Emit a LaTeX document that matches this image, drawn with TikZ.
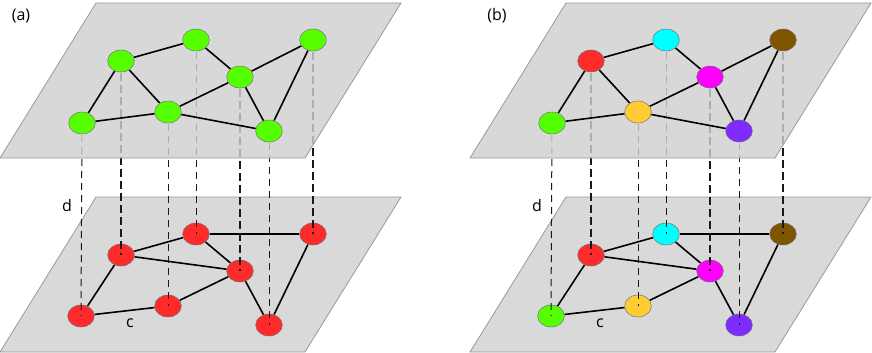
\documentclass[tikz,border=0pt]{standalone}
\usepackage{fontspec}
\setmainfont{Open Sans}
\usetikzlibrary{shapes.geometric}
\pgfdeclarelayer{planeB}
\pgfdeclarelayer{edgesB}
\pgfdeclarelayer{nodesB}
\pgfdeclarelayer{dashl}
\pgfdeclarelayer{planeT}
\pgfdeclarelayer{edgesT}
\pgfsetlayers{planeB,edgesB,nodesB,dashl,planeT,edgesT,main}
\definecolor{cgreen}{HTML}{55FF00}
\definecolor{cred}{HTML}{FF2A2A}
\definecolor{ccyan}{HTML}{00FFFF}
\definecolor{cmag}{HTML}{FF00FF}
\definecolor{cbrown}{HTML}{805500}
\definecolor{cpurple}{HTML}{7F2AFF}
\definecolor{corange}{HTML}{FFCC33}
\definecolor{planefill}{HTML}{D9D9D9}
\definecolor{planetop}{HTML}{D0D0D0}
\definecolor{planeline}{HTML}{999999}
% panel (a): upper all green, lower all red
\colorlet{at1}{cgreen}\colorlet{at2}{cgreen}\colorlet{at3}{cgreen}\colorlet{at4}{cgreen}
\colorlet{at5}{cgreen}\colorlet{at6}{cgreen}\colorlet{at7}{cgreen}
\colorlet{ab1}{cred}\colorlet{ab2}{cred}\colorlet{ab3}{cred}\colorlet{ab4}{cred}
\colorlet{ab5}{cred}\colorlet{ab6}{cred}\colorlet{ab7}{cred}
% panel (b): same colouring in both layers
\colorlet{bt1}{cgreen}\colorlet{bt2}{cred}\colorlet{bt3}{ccyan}\colorlet{bt4}{cbrown}
\colorlet{bt5}{cmag}\colorlet{bt6}{corange}\colorlet{bt7}{cpurple}
\colorlet{bb1}{cgreen}\colorlet{bb2}{cred}\colorlet{bb3}{ccyan}\colorlet{bb4}{cbrown}
\colorlet{bb5}{cmag}\colorlet{bb6}{corange}\colorlet{bb7}{cpurple}
\tikzset{
  vert/.style={ellipse, draw=black!55, line width=0.5pt, minimum width=26.7pt, minimum height=22pt, inner sep=0pt, fill=#1},
  gedge/.style={line width=1.6pt, black},
  proj/.style={line width=1pt, black!90, dash pattern=on 7pt off 5pt},
  projthick/.style={line width=1.6pt, black!90, dash pattern=on 8pt off 4pt},
  plane/.style={fill=planefill, draw=planeline, line width=0.8pt},
  planeupper/.style={fill=planetop, fill opacity=0.82, draw=planeline, line width=0.8pt},
  lbl/.style={font=\fontsize{16pt}{18pt}\selectfont, inner sep=0pt}
}
% #1 prefix (colours #1t1..#1t7, #1b1..#1b7)
\newcommand\drawpanel[1]{%
  \begin{pgfonlayer}{planeB}
    \path[plane] (96,197) -- (401,197) -- (305,352) -- (0,352) -- cycle;
  \end{pgfonlayer}
  \begin{pgfonlayer}{nodesB}
    \node[vert=#1b1] (#1B1) at (81,316) {};
    \node[vert=#1b2] (#1B2) at (121,255) {};
    \node[vert=#1b3] (#1B3) at (196,234) {};
    \node[vert=#1b4] (#1B4) at (313,234) {};
    \node[vert=#1b5] (#1B5) at (240,271) {};
    \node[vert=#1b6] (#1B6) at (168,306) {};
    \node[vert=#1b7] (#1B7) at (269,325) {};
  \end{pgfonlayer}
  \begin{pgfonlayer}{edgesB}
    \draw[gedge] (#1B1) -- (#1B2);
    \draw[gedge] (#1B1) -- (#1B6);
    \draw[gedge] (#1B2) -- (#1B3);
    \draw[gedge] (#1B2) -- (#1B5);
    \draw[gedge] (#1B3) -- (#1B4);
    \draw[gedge] (#1B3) -- (#1B5);
    \draw[gedge] (#1B5) -- (#1B6);
    \draw[gedge] (#1B5) -- (#1B7);
    \draw[gedge] (#1B4) -- (#1B7);
  \end{pgfonlayer}
  \begin{pgfonlayer}{planeT}
    \path[planeupper] (96,3) -- (401,3) -- (305,158) -- (0,158) -- cycle;
  \end{pgfonlayer}
  \node[vert=#1t1] (#1T1) at (82,123) {};
  \node[vert=#1t2] (#1T2) at (121,61) {};
  \node[vert=#1t3] (#1T3) at (196,40) {};
  \node[vert=#1t4] (#1T4) at (313,40) {};
  \node[vert=#1t5] (#1T5) at (240,77) {};
  \node[vert=#1t6] (#1T6) at (168,112) {};
  \node[vert=#1t7] (#1T7) at (269,131) {};
  \begin{pgfonlayer}{edgesT}
    \draw[gedge] (#1T1) -- (#1T2);
    \draw[gedge] (#1T1) -- (#1T6);
    \draw[gedge] (#1T2) -- (#1T3);
    \draw[gedge] (#1T2) -- (#1T6);
    \draw[gedge] (#1T3) -- (#1T5);
    \draw[gedge] (#1T5) -- (#1T6);
    \draw[gedge] (#1T5) -- (#1T4);
    \draw[gedge] (#1T5) -- (#1T7);
    \draw[gedge] (#1T6) -- (#1T7);
    \draw[gedge] (#1T4) -- (#1T7);
  \end{pgfonlayer}
  \begin{pgfonlayer}{dashl}
    \draw[proj] (#1T1.center) -- (#1B1.center);
    \draw[projthick] (#1T2.center) -- (#1B2.center);
    \draw[proj] (#1T3.center) -- (#1B3.center);
    \draw[projthick] (#1T4.center) -- (#1B4.center);
    \draw[projthick] (#1T5.center) -- (#1B5.center);
    \draw[proj] (#1T6.center) -- (#1B6.center);
    \draw[proj] (#1T7.center) -- (#1B7.center);
  \end{pgfonlayer}
  \node[lbl] (#1d) at (67,205) {d};
  \node[lbl] (#1c) at (130,323) {c};
}
\begin{document}
\begin{tikzpicture}[x=1pt, y=-1pt]
\useasboundingbox (0,0) rectangle (872,353);
\drawpanel{a}
\node[lbl] (alab) at (21,16) {(a)};
\begin{scope}[xshift=470pt]
\drawpanel{b}
\end{scope}
\node[lbl] (blab) at (497,16) {(b)};
\end{tikzpicture}
\end{document}
